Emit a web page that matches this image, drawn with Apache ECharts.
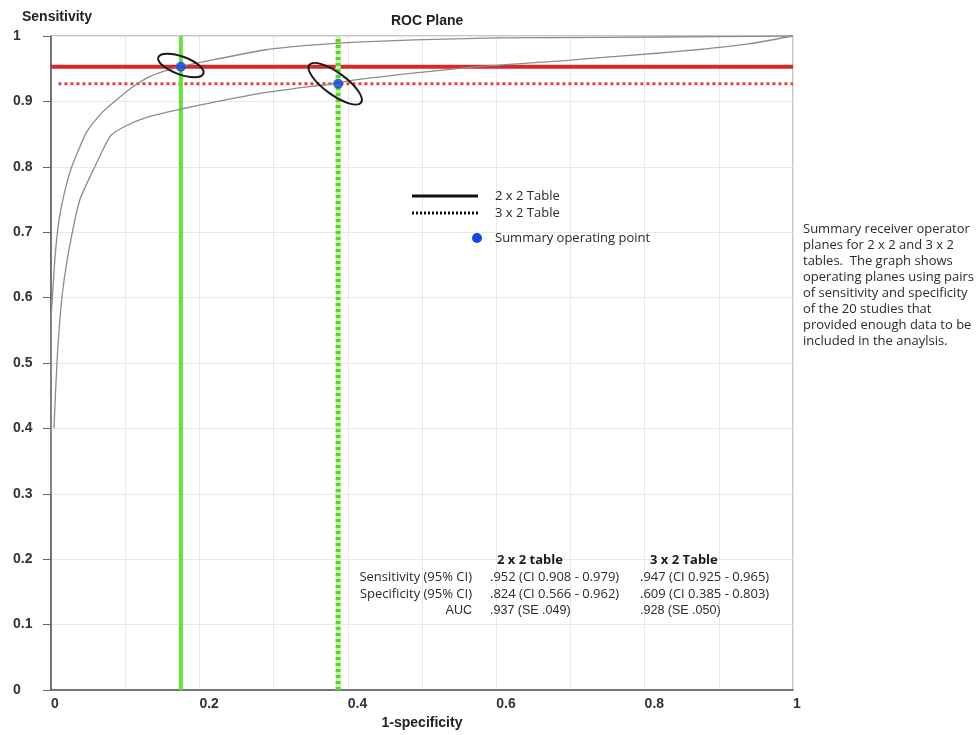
<!DOCTYPE html>
<html>
<head>
<meta charset="utf-8">
<script src="https://cdn.jsdelivr.net/npm/echarts@6/dist/echarts.min.js"></script>
<style>
  body { margin: 0; background: #fff; }
  #chart { width: 980px; height: 735px; }
</style>
</head>
<body>
<div id="chart"></div>
<script>
// summary ROC curves (1-specificity, sensitivity)
const curve2x2 = [
  [0, 0.30], [0, 0.56], [0.003, 0.62], [0.006, 0.67], [0.011, 0.72], [0.018, 0.76],
  [0.028, 0.80], [0.048, 0.853], [0.068, 0.882], [0.089, 0.903], [0.11, 0.922],
  [0.133, 0.938], [0.174, 0.953], [0.22, 0.964], [0.29, 0.979], [0.35, 0.986],
  [0.42, 0.991], [0.49, 0.994], [0.6, 0.997], [0.75, 0.998], [0.9, 0.999], [1, 1]
]
const curve3x2 = [
  [0.004, 0.40], [0.008, 0.50], [0.013, 0.58], [0.018, 0.63], [0.027, 0.69],
  [0.039, 0.75], [0.059, 0.80], [0.08, 0.847], [0.10, 0.862], [0.13, 0.876],
  [0.174, 0.888], [0.22, 0.899], [0.28, 0.912], [0.33, 0.920], [0.38, 0.927],
  [0.41, 0.933], [0.555, 0.951], [0.70, 0.963], [0.74, 0.967], [0.82, 0.974],
  [0.87, 0.979], [0.94, 0.988], [1, 1]
]
// summary operating points
const fpr = [0.175, 0.387]
const sens = [0.953, 0.927]
// confidence ellipse centres
const ellipseX = [0.175, 0.383]
const ellipseY = [0.955, 0.927]

const xTicks = [0, 0.2, 0.4, 0.6, 0.8, 1]
const yTicks = [0, 0.1, 0.2, 0.3, 0.4, 0.5, 0.6, 0.7, 0.8, 0.9, 1]

const tableHead = ['2 x 2 table', '3 x 2 Table']
const tableRows = ['Sensitivity (95% CI)', 'Specificity (95% CI)', 'AUC']
const table2x2 = ['.952 (CI 0.908 - 0.979)', '.824 (CI 0.566 - 0.962)', '.937 (SE .049)']
const table3x2 = ['.947 (CI 0.925 - 0.965)', '.609 (CI 0.385 - 0.803)', '.928 (SE .050)']

const note = [
  'Summary receiver operator',
  'planes for 2 x 2 and 3 x 2',
  'tables.  The graph shows',
  'operating planes using pairs',
  'of sensitivity and specificity',
  'of the 20 studies that',
  'provided enough data to be',
  'included in the anaylsis.'
]

// ellipse look: radii in px and tilt
const ellipseShape = [
  { rx: 24, ry: 9, angle: 20 },
  { rx: 32, ry: 11, angle: 36 }
]

const chart = echarts.init(document.getElementById('chart'))
const sansMyriad = '"Open Sans", "Noto Sans", sans-serif'
const arial = '"Liberation Sans", Arial, sans-serif'

const labelOf = (ticks, v) => {
  const t = ticks.find(k => Math.abs(k - v) < 1e-6)
  return t === undefined ? '' : String(t)
}

const graphics = []
// legend
graphics.push(
  { type: 'line', shape: { x1: 412, y1: 196, x2: 478, y2: 196 }, style: { stroke: '#111', lineWidth: 3 } },
  { type: 'line', shape: { x1: 412, y1: 213, x2: 478, y2: 213 }, style: { stroke: '#111', lineWidth: 3, lineDash: [2, 2] } },
  { type: 'circle', shape: { cx: 477, cy: 238, r: 5 }, style: { fill: '#1446e6' } }
)
;['2 x 2 Table', '3 x 2 Table', 'Summary operating point'].forEach((t, i) => {
  graphics.push({
    type: 'text', x: 495, y: [196, 213, 238][i],
    style: { text: t, font: '13px ' + sansMyriad, fill: '#2a2a2a', verticalAlign: 'middle' }
  })
})
// table
tableHead.forEach((t, i) => {
  graphics.push({
    type: 'text', x: [497, 650][i], y: 560,
    style: { text: t, font: 'bold 13px ' + sansMyriad, fill: '#1a1a1a', verticalAlign: 'middle' }
  })
})
tableRows.forEach((t, i) => {
  const y = 577 + i * 17
  const f = i === 2 ? '12.5px ' + arial : '13px ' + sansMyriad
  graphics.push(
    { type: 'text', x: 472, y, style: { text: t, font: f, fill: '#2a2a2a', align: 'right', verticalAlign: 'middle' } },
    { type: 'text', x: 490, y, style: { text: table2x2[i], font: f, fill: '#2a2a2a', verticalAlign: 'middle' } },
    { type: 'text', x: 640, y, style: { text: table3x2[i], font: f, fill: '#2a2a2a', verticalAlign: 'middle' } }
  )
})
// side note
note.forEach((t, i) => {
  graphics.push({
    type: 'text', x: 803, y: 229 + i * 16,
    style: { text: t, font: '13px ' + sansMyriad, fill: '#2a2a2a', verticalAlign: 'middle' }
  })
})
graphics.forEach(g => { g.z = 100 })

const option = {
  animation: false,
  title: {
    text: 'ROC Plane', left: 386, top: 9,
    textStyle: { fontFamily: arial, fontSize: 14, fontWeight: 'bold', color: '#222' }
  },
  grid: {
    left: 51, right: 187, top: 36, bottom: 41,
    show: true, borderColor: '#8a8a8a', borderWidth: 1
  },
  xAxis: {
    type: 'value', min: 0, max: 1, interval: 0.1,
    name: '1-specificity', nameLocation: 'middle', nameGap: 26,
    nameTextStyle: { fontFamily: arial, fontSize: 14, fontWeight: 'bold', color: '#222' },
    axisLine: { lineStyle: { color: '#555', width: 1.5 } },
    axisTick: { show: false },
    axisLabel: {
      align: 'left', margin: 7,
      fontFamily: arial, fontSize: 14, fontWeight: 'bold', color: '#333',
      formatter: v => labelOf(xTicks, v)
    },
    splitLine: { lineStyle: { color: '#e8e8e8' } }
  },
  yAxis: {
    type: 'value', min: 0, max: 1, interval: 0.1,
    name: 'Sensitivity', nameLocation: 'end', nameGap: 12,
    nameTextStyle: { fontFamily: arial, fontSize: 14, fontWeight: 'bold', color: '#222', align: 'center', padding: [0, 0, 0, 12] },
    axisLine: { show: true, lineStyle: { color: '#555', width: 1.5 } },
    axisTick: { show: true, length: 8, lineStyle: { color: '#666' } },
    axisLabel: {
      align: 'left', margin: 38,
      fontFamily: arial, fontSize: 14, fontWeight: 'bold', color: '#333',
      formatter: v => labelOf(yTicks, v)
    },
    splitLine: { lineStyle: { color: '#e8e8e8' } }
  },
  graphic: graphics,
  series: [
    {
      name: '2x2 sens', type: 'line', data: [[0, sens[0]], [1, sens[0]]],
      symbol: 'none', lineStyle: { color: '#d42a2a', width: 4 }, z: 2
    },
    {
      name: '3x2 sens', type: 'line', data: [[0.01, sens[1]], [1, sens[1]]],
      symbol: 'none', lineStyle: { color: '#e8403a', width: 3, type: [3, 3] }, z: 2
    },
    {
      name: '2x2 fpr', type: 'line', data: [[fpr[0], 0], [fpr[0], 1]],
      symbol: 'none', lineStyle: { color: '#66e23a', width: 4 }, z: 3
    },
    {
      name: '3x2 fpr base', type: 'line', data: [[fpr[1], 0], [fpr[1], 1]],
      symbol: 'none', lineStyle: { color: '#c8f3ae', width: 5 }, z: 3
    },
    {
      name: '3x2 fpr', type: 'line', data: [[fpr[1], 0], [fpr[1], 1]],
      symbol: 'none', lineStyle: { color: '#5cd42c', width: 5, type: [3, 3] }, z: 3
    },
    {
      name: '2x2 curve', type: 'line', data: curve2x2,
      symbol: 'none', smooth: 0.2, lineStyle: { color: '#8c8c8c', width: 1.3 }, z: 4
    },
    {
      name: '3x2 curve', type: 'line', data: curve3x2,
      symbol: 'none', smooth: 0.2, lineStyle: { color: '#8c8c8c', width: 1.3 }, z: 4
    },
    {
      name: 'ellipses', type: 'custom', z: 5,
      data: ellipseX.map((x, i) => [x, ellipseY[i]]),
      renderItem: (params, api) => {
        const c = api.coord([api.value(0), api.value(1)])
        const s = ellipseShape[params.dataIndex]
        return {
          type: 'ellipse',
          x: c[0], y: c[1],
          rotation: -s.angle * Math.PI / 180,
          shape: { cx: 0, cy: 0, rx: s.rx, ry: s.ry },
          style: { fill: 'none', stroke: '#1a1a1a', lineWidth: 2 }
        }
      }
    },
    {
      name: 'Summary operating point', type: 'scatter', z: 6,
      data: fpr.map((x, i) => [x, sens[i]]),
      symbolSize: 10, itemStyle: { color: '#1446e6' }
    }
  ]
}
chart.setOption(option)
</script>
</body>
</html>
